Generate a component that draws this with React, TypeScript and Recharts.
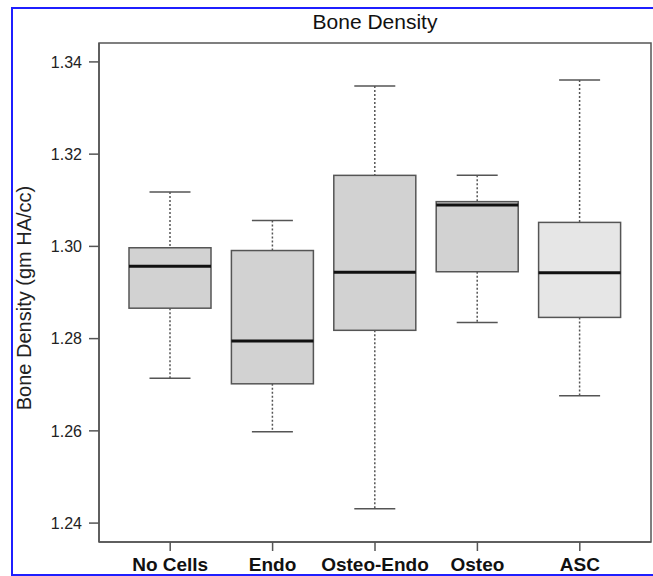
import { Bar, ComposedChart, Customized, XAxis, YAxis } from "recharts";

// Bone density box plot (five cell groups)
const groups = ["No Cells", "Endo", "Osteo-Endo", "Osteo", "ASC"];
const whiskerLow = [1.2714, 1.2598, 1.2431, 1.2835, 1.2676];
const quartile1 = [1.2866, 1.2702, 1.2818, 1.2945, 1.2846];
const medians = [1.2957, 1.2795, 1.2944, 1.309, 1.2943];
const quartile3 = [1.2997, 1.2991, 1.3154, 1.3097, 1.3052];
const whiskerHigh = [1.3118, 1.3056, 1.3348, 1.3154, 1.3361];
const boxFills = ["#d2d2d2", "#d2d2d2", "#d2d2d2", "#d2d2d2", "#e6e6e6"];
const yTicks = [1.24, 1.26, 1.28, 1.3, 1.32, 1.34];

const rows = groups.map((name, i) => ({
  name,
  range: [whiskerLow[i], whiskerHigh[i]],
  q1: quartile1[i],
  median: medians[i],
  q3: quartile3[i],
  fill: boxFills[i],
}));

const FONT = "'Liberation Sans', Arial, Helvetica, sans-serif";
const AXIS = "#555";

function BoxShape(props: any) {
  const { x, y, width, height, payload } = props;
  const [lo, hi] = payload.range;
  // map a value into the pixel span recharts gave the whisker range
  const py = (v: number) => y + (height * (hi - v)) / (hi - lo);
  const cx = x + width / 2;
  const capHalf = width / 4;
  const top = py(payload.q3);
  const bottom = py(payload.q1);
  return (
    <g>
      <line x1={cx} x2={cx} y1={y} y2={top} stroke={AXIS} strokeWidth={1.5} strokeDasharray="2 2" />
      <line x1={cx} x2={cx} y1={bottom} y2={y + height} stroke={AXIS} strokeWidth={1.5} strokeDasharray="2 2" />
      <line x1={cx - capHalf} x2={cx + capHalf} y1={y} y2={y} stroke={AXIS} strokeWidth={1.5} />
      <line x1={cx - capHalf} x2={cx + capHalf} y1={y + height} y2={y + height} stroke={AXIS} strokeWidth={1.5} />
      <rect x={x} y={top} width={width} height={bottom - top} fill={payload.fill} stroke={AXIS} strokeWidth={1.5} />
      <line x1={x} x2={x + width} y1={py(payload.median)} y2={py(payload.median)} stroke="#111" strokeWidth={3} />
    </g>
  );
}

function Decorations() {
  return (
    <g>
      <rect x={99} y={43} width={552} height={499} fill="none" stroke={AXIS} strokeWidth={1.5} />
      <rect x={12} y={8} width={660} height={567} fill="none" stroke="#1f1fff" strokeWidth={2} />
      <text x={375} y={29} textAnchor="middle" fontFamily={FONT} fontSize={21} fill="#111">
        Bone Density
      </text>
      <text
        x={31}
        y={298}
        textAnchor="middle"
        transform="rotate(-90 31 298)"
        fontFamily={FONT}
        fontSize={20}
        fill="#222"
      >
        Bone Density (gm HA/cc)
      </text>
    </g>
  );
}

export default function App() {
  return (
    <div style={{ position: "absolute", left: 0, top: 0, background: "#fff" }}>
      <ComposedChart width={653} height={576} data={rows} margin={{ top: 43, right: 2, bottom: 0, left: 0 }}>
        <XAxis
          dataKey="name"
          height={34}
          padding={{ left: 20, right: 20 }}
          stroke={AXIS}
          strokeWidth={1.5}
          tickSize={9}
          tickMargin={7}
          tick={{ fontSize: 19, fontWeight: "bold", fill: "#111", fontFamily: FONT }}
          interval={0}
        />
        <YAxis
          width={99}
          domain={[1.2359, 1.3441]}
          allowDataOverflow
          ticks={yTicks}
          tickFormatter={(v: number) => v.toFixed(2)}
          stroke={AXIS}
          strokeWidth={1.5}
          tickSize={10}
          tickMargin={7}
          tick={{ fontSize: 16, fill: "#222", fontFamily: FONT }}
        />
        <Bar dataKey="range" barSize={82} shape={BoxShape} isAnimationActive={false} />
        <Customized component={Decorations} />
      </ComposedChart>
    </div>
  );
}
